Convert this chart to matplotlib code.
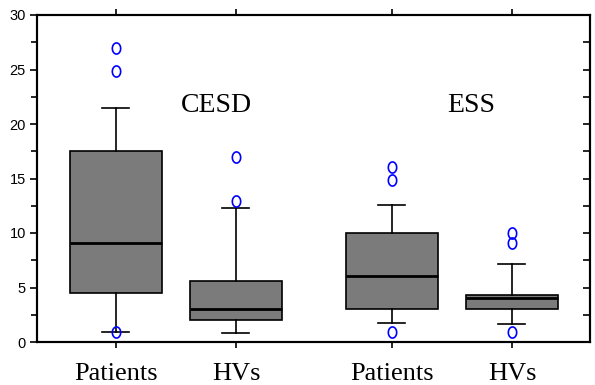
import matplotlib
matplotlib.use("Agg")
import matplotlib.pyplot as plt
import numpy as np

categories = ["Patients", "HVs", "Patients", "HVs"]
groups = ["CESD", "ESS"]
q1 = [4.5, 2.0, 3.0, 3.0]
medians = [9.1, 3.0, 6.05, 4.0]
q3 = [17.5, 5.6, 10.0, 4.3]
whislo = [0.9, 0.8, 1.75, 1.65]
whishi = [21.5, 12.3, 12.6, 7.15]
fliers = [[27.0, 24.9, 0.9], [17.0, 12.9], [16.1, 14.9, 0.9], [10.0, 9.1, 0.9]]
yticks = [0, 5, 10, 15, 20, 25, 30]

positions = [1, 2, 3.3, 4.3]

fig = plt.figure(figsize=(5.95, 3.85), dpi=100)
ax = fig.add_axes([37/595, 43/385, 553/595, 327/385])

stats = []
for i in range(4):
    stats.append(dict(med=medians[i], q1=q1[i], q3=q3[i], whislo=whislo[i],
                      whishi=whishi[i], fliers=fliers[i]))

t = np.linspace(0, 2*np.pi, 60)
ell = np.column_stack([0.75*np.cos(t), np.sin(t)])
ax.bxp(stats, positions=positions, widths=0.77, patch_artist=True, capwidths=0.225,
       boxprops=dict(facecolor="#7b7b7b", edgecolor="black", linewidth=1.2),
       medianprops=dict(color="black", linewidth=2),
       whiskerprops=dict(color="black", linewidth=1.2),
       capprops=dict(color="black", linewidth=1.2),
       flierprops=dict(marker=ell, markersize=8, markerfacecolor="none",
                       markeredgecolor="blue", markeredgewidth=1.2))

ax.set_xlim(0.342, 4.95)
ax.set_ylim(0, 30)
ax.set_xticks(positions)
ax.set_xticklabels(categories, fontfamily="Liberation Serif", fontsize=19)
ax.set_yticks(yticks)
ax.set_yticks(np.arange(2.5, 30, 5), minor=True)
ax.tick_params(axis="y", which="major", direction="out", length=5, width=1.2,
               labelsize=10.5, pad=3)
ax.tick_params(axis="y", which="minor", direction="out", length=4, width=1.2)
for lab in ax.get_yticklabels():
    lab.set_fontfamily("Liberation Sans")
ax.tick_params(axis="x", direction="out", length=4, width=1.2, top=True, pad=11)

ax2 = ax.twinx()
ax2.set_ylim(0, 30)
ax2.set_yticks(np.arange(2.5, 30, 2.5))
ax2.tick_params(axis="y", direction="in", length=5, width=1.2, labelright=False)

for a in (ax, ax2):
    for s in a.spines.values():
        s.set_linewidth(1.5)

ax.text(1.84, 21.7, groups[0], fontfamily="Liberation Serif",
        fontsize=20, ha="center", va="center")
ax.text(3.96, 21.7, groups[1], fontfamily="Liberation Serif",
        fontsize=20, ha="center", va="center")

fig.savefig("out.png", dpi=100)
